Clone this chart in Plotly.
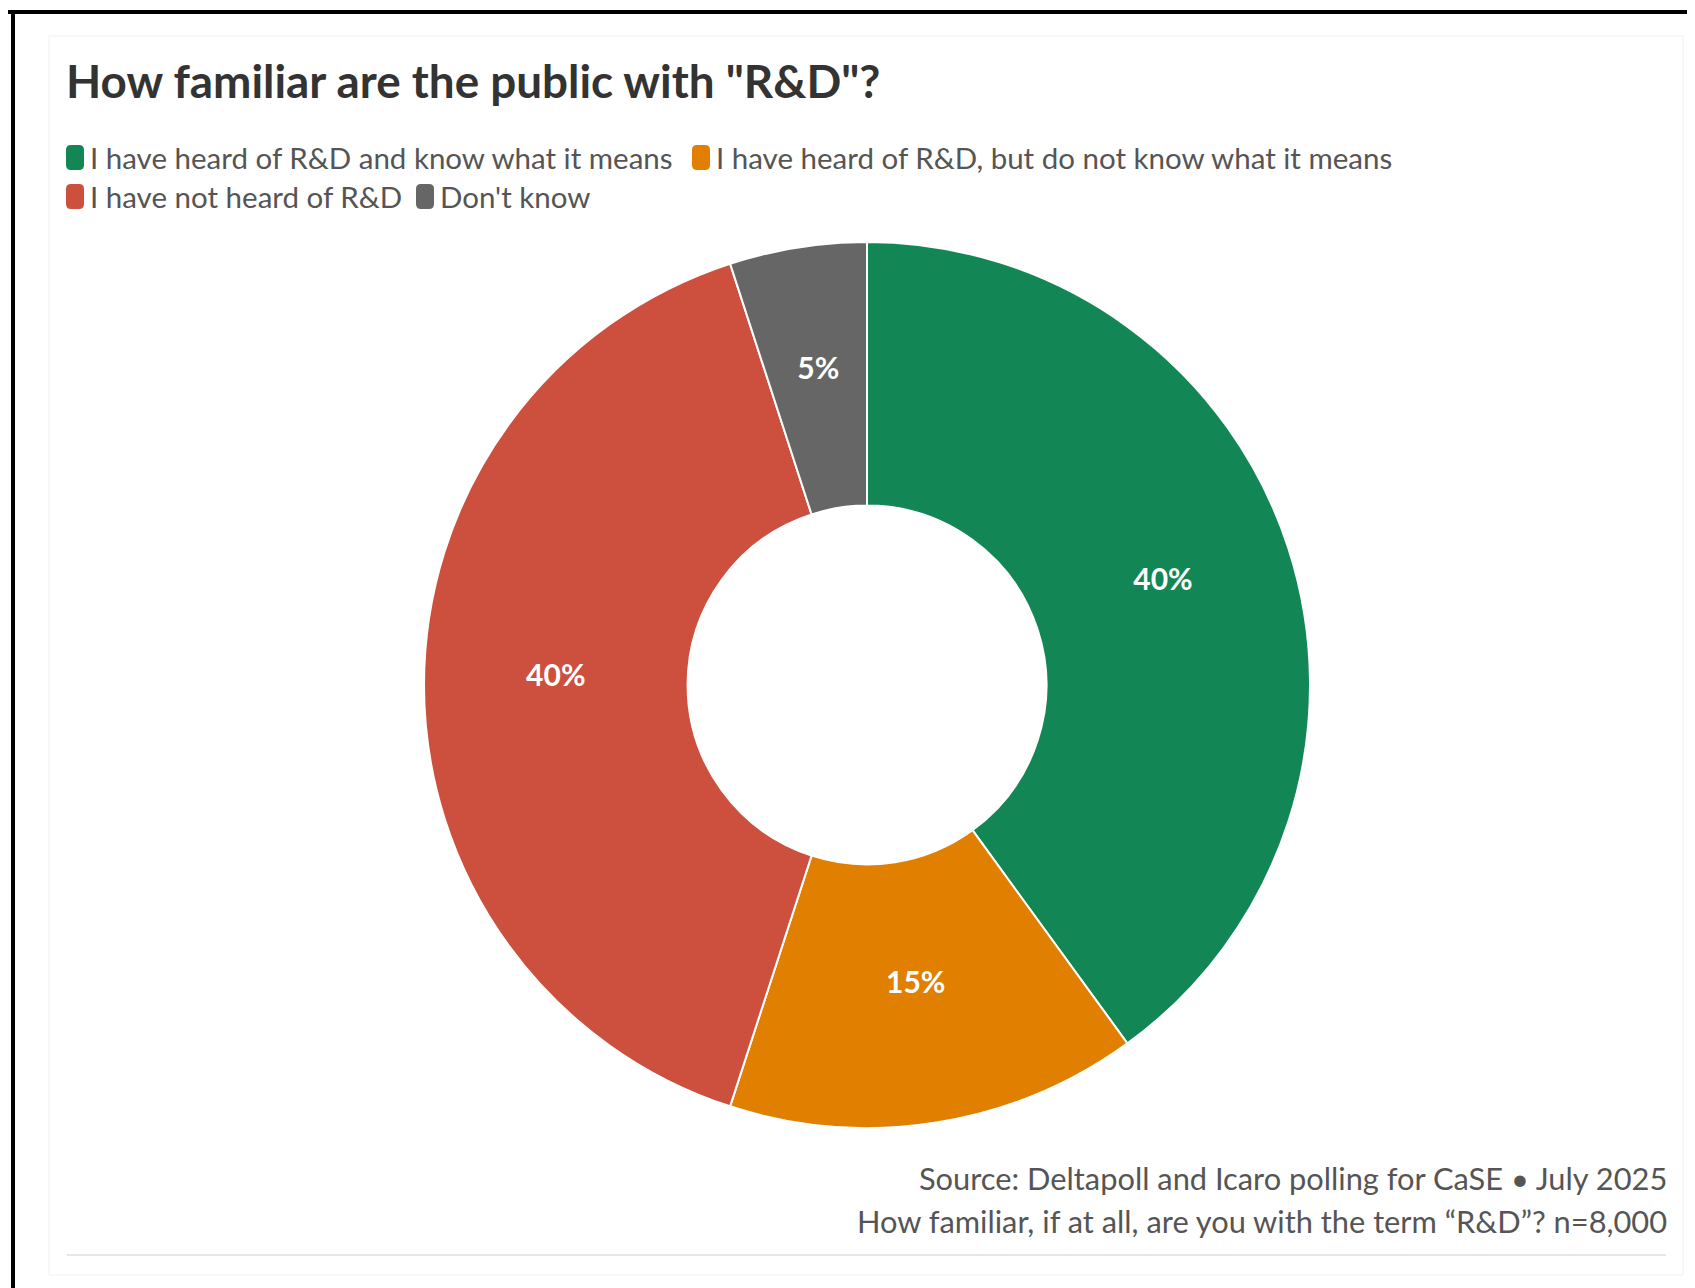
import plotly.graph_objects as go

categories = [
    "I have heard of R&D and know what it means",
    "I have heard of R&D, but do not know what it means",
    "I have not heard of R&D",
    "Don't know",
]
values = [40, 15, 40, 5]
colors = ["#128655", "#E07F00", "#CC503D", "#666666"]

title_text = 'How familiar are the public with "R&D"?'
source_line1 = "Source: Deltapoll and Icaro polling for CaSE \u2022 July 2025"
source_line2 = "How familiar, if at all, are you with the term \u201cR&D\u201d? n=8,000"

W, H = 1695, 1288
OFF = 8  # page body margin
FONT = "Lato"
TEXT_GREY = "#555555"

# donut geometry (pixels)
CX, CY, R_OUT = 867, 685, 443
HOLE = 0.405
# label ring: a transparent companion donut whose ring middle sits at the middle
# of the main ring, so every label (even the thin 5% slice) is centred there
LABEL_MID = R_OUT * (1 + HOLE) / 2
LABEL_HALF_RING = 0.13
R_LAB = LABEL_MID / (1 - LABEL_HALF_RING)
LAB_DY = -11  # visual baseline correction


def px(x):
    return (x - OFF) / W


def py(y):
    return 1 - (y - OFF) / H


def rounded_rect(x0, y0, x1, y1, r):
    X0, X1 = px(x0), px(x1)
    Y0, Y1 = py(y0), py(y1)
    rx, ry = r / W, r / H
    return (f"M {X0 + rx},{Y0} L {X1 - rx},{Y0} Q {X1},{Y0} {X1},{Y0 - ry} "
            f"L {X1},{Y1 + ry} Q {X1},{Y1} {X1 - rx},{Y1} "
            f"L {X0 + rx},{Y1} Q {X0},{Y1} {X0},{Y1 + ry} "
            f"L {X0},{Y0 - ry} Q {X0},{Y0} {X0 + rx},{Y0} Z")


fig = go.Figure()
fig.add_trace(go.Pie(
    labels=categories,
    values=values,
    sort=False,
    direction="clockwise",
    rotation=0,
    hole=HOLE,
    marker=dict(colors=colors, line=dict(color="white", width=2)),
    textinfo="none",
    domain=dict(x=[px(CX - R_OUT), px(CX + R_OUT)], y=[py(CY + R_OUT), py(CY - R_OUT)]),
    hoverinfo="label+value",
    showlegend=False,
))
fig.add_trace(go.Pie(
    labels=categories,
    values=values,
    sort=False,
    direction="clockwise",
    rotation=0,
    hole=1 - 2 * LABEL_HALF_RING,
    marker=dict(colors=["rgba(0,0,0,0)"] * len(values), line=dict(width=0)),
    texttemplate="%{value}%",
    textposition="inside",
    insidetextorientation="horizontal",
    textfont=dict(family=FONT, size=30, color="white", weight="bold"),
    domain=dict(x=[px(CX - R_LAB), px(CX + R_LAB)],
                y=[py(CY + LAB_DY + R_LAB), py(CY + LAB_DY - R_LAB)]),
    hoverinfo="skip",
    showlegend=False,
))

# custom legend (flowing layout like the original), built from categories/colors
legend_slots = [(66, 145), (692, 145), (66, 184), (416, 184)]  # symbol top-left (px)
shapes = []
annotations = []
for (sx, sy), name, col in zip(legend_slots, categories, colors):
    shapes.append(dict(type="path", xref="paper", yref="paper",
                       path=rounded_rect(sx, sy, sx + 18, sy + 25, 5),
                       fillcolor=col, line=dict(width=0)))
    annotations.append(dict(text=name, x=px(sx + 22), y=py(sy + 12.5), xref="paper", yref="paper",
                            xanchor="left", yanchor="middle", showarrow=False,
                            font=dict(family=FONT, size=29.5, color=TEXT_GREY)))

annotations += [
    dict(text=f"<b>{title_text}</b>", x=px(64), y=py(81), xref="paper", yref="paper",
         xanchor="left", yanchor="middle", showarrow=False,
         font=dict(family=FONT, size=45.8, color="#333333")),
    dict(text=source_line1, x=px(1669), y=py(1178), xref="paper", yref="paper",
         xanchor="right", yanchor="middle", showarrow=False,
         font=dict(family=FONT, size=30.8, color=TEXT_GREY)),
    dict(text=source_line2, x=px(1669), y=py(1221), xref="paper", yref="paper",
         xanchor="right", yanchor="middle", showarrow=False,
         font=dict(family=FONT, size=30.8, color=TEXT_GREY)),
]

shapes += [
    # black frame (top and left)
    dict(type="line", xref="paper", yref="paper", x0=px(0), x1=1.02, y0=py(12), y1=py(12),
         line=dict(color="black", width=4)),
    dict(type="line", xref="paper", yref="paper", x0=px(13), x1=px(13), y0=py(10), y1=-0.02,
         line=dict(color="black", width=4)),
    # faint card border
    dict(type="rect", xref="paper", yref="paper", x0=px(49), x1=px(1683), y0=py(1275), y1=py(36),
         line=dict(color="#f1f1f1", width=1), layer="below"),
    # footer rule
    dict(type="line", xref="paper", yref="paper", x0=px(67), x1=px(1666), y0=py(1255), y1=py(1255),
         line=dict(color="#e6e6e6", width=2)),
]

fig.update_layout(
    width=W, height=H,
    margin=dict(l=0, r=0, t=0, b=0),
    paper_bgcolor="white",
    plot_bgcolor="white",
    font=dict(family=FONT, color=TEXT_GREY),
    showlegend=False,
    annotations=annotations,
    shapes=shapes,
)

fig.write_html("out.html")
